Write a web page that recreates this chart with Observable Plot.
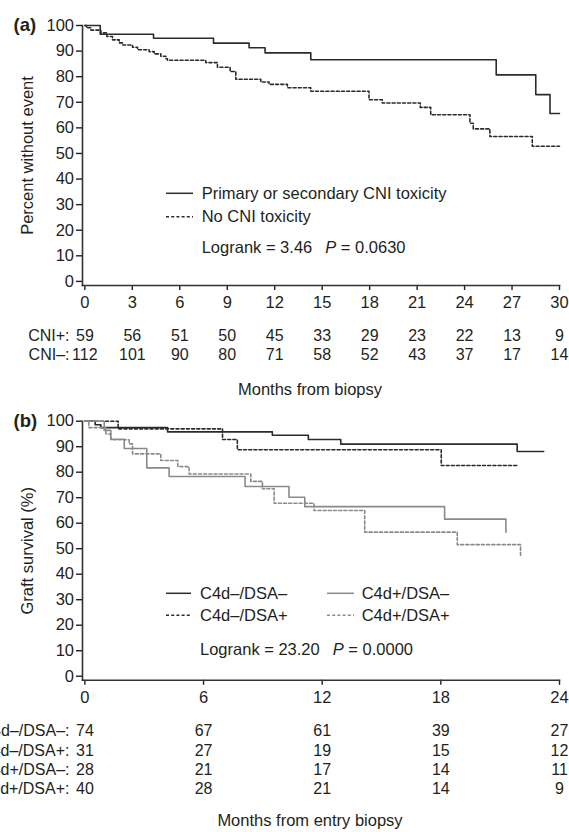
<!DOCTYPE html>
<html><head><meta charset="utf-8">
<script src="https://cdn.jsdelivr.net/npm/d3@7"></script>
<script src="https://cdn.jsdelivr.net/npm/@observablehq/plot@0.6"></script>
<style>body{margin:0;background:#fff} svg{display:block}</style>
</head><body><div id="chart"></div>
<script>
const FONT = "'Liberation Sans', Arial, Helvetica, sans-serif";
const INK = "#231f20";
const DARK = "#2b2b2b";
const GRAY = "#8a8a8a";

// ---------- Panel (a) data ----------
const aTicks = [0, 3, 6, 9, 12, 15, 18, 21, 24, 27, 30];
const aPosLabel = "Primary or secondary CNI toxicity";
const aNegLabel = "No CNI toxicity";
const aPosT = [0, 0.97, 4.34, 8.13, 10.38, 11.39, 14.28, 26.0, 28.5, 29.4, 30];
const aPosS = [100, 96.6, 95.0, 93.1, 91.3, 89.3, 86.6, 80.7, 73.0, 65.6, 65.6];
const aNegT = [0, 0.1, 0.38, 1.01, 1.39, 1.75, 2.17, 2.38, 3.01, 3.33, 4.06, 4.38, 4.8, 5.12, 5.22, 7.64, 8.38, 9.18, 9.54, 11.12, 11.64, 12.8, 14.28, 17.96, 18.8, 21.2, 21.86, 24.34, 24.55, 25.6, 28.28, 30];
const aNegS = [100, 99.1, 98.2, 97.1, 95.7, 94.4, 93.2, 92.4, 91.5, 90.5, 89.8, 88.9, 88.0, 87.0, 86.4, 85.5, 83.7, 82.0, 79.0, 77.9, 77.0, 75.7, 74.3, 71.0, 69.7, 68.0, 65.1, 61.8, 59.6, 56.6, 52.8, 52.8];
const aRiskPos = [59, 56, 51, 50, 45, 33, 29, 23, 22, 13, 9];
const aRiskNeg = [112, 101, 90, 80, 71, 58, 52, 43, 37, 17, 14];
const aRowLabels = ["CNI+:", "CNI\u2013:"];
const aLogrank = ["Logrank = 3.46", "P", " = 0.0630"];

// ---------- Panel (b) data ----------
const bTicks = [0, 6, 12, 18, 24];
const bNames = ["C4d\u2013/DSA\u2013", "C4d\u2013/DSA+", "C4d+/DSA\u2013", "C4d+/DSA+"];
const b1T = [0, 0.52, 0.81, 4.18, 9.48, 11.3, 12.94, 21.86, 23.2];
const b1S = [100, 98.6, 97.5, 95.8, 94.5, 92.8, 91.0, 88.1, 88.1];
const b2T = [0, 1.68, 6.96, 7.71, 18.02, 21.9];
const b2S = [100, 97.0, 92.8, 88.8, 82.6, 82.6];
const b3T = [0, 0.98, 1.31, 1.99, 3.13, 4.26, 8.1, 10.32, 11.12, 18.19, 21.29];
const b3S = [100, 96.4, 92.9, 89.3, 81.7, 78.3, 74.4, 70.2, 66.5, 61.6, 56.5];
const b4T = [0, 0.2, 1.06, 1.31, 2.24, 2.41, 3.84, 4.7, 5.27, 8.39, 8.98, 9.57, 11.59, 14.15, 18.83, 22.03];
const b4S = [100, 97.5, 95.0, 92.7, 91.1, 87.2, 84.6, 82.2, 79.3, 76.4, 73.5, 67.8, 65.0, 56.5, 51.6, 46.9];
const bRisk1 = [74, 67, 61, 39, 27];
const bRisk2 = [31, 27, 19, 15, 12];
const bRisk3 = [28, 21, 17, 14, 11];
const bRisk4 = [40, 28, 21, 14, 9];
const bLogrank = ["Logrank = 23.20", "P", " = 0.0000"];

const yTicks = [0, 10, 20, 30, 40, 50, 60, 70, 80, 90, 100];

function toRows(ts, ss, name) { return ts.map((t, i) => ({t, s: ss[i], name})); }

function legendMark(items, logrank, layout) {
  return (index, scales, values, dims) => {
    const g = d3.create("svg:g").attr("font-family", FONT).attr("font-size", 16.5).attr("fill", INK).attr("text-anchor", "start");
    items.forEach(it => {
      g.append("line").attr("x1", it.x1).attr("x2", it.x2).attr("y1", it.y).attr("y2", it.y)
        .attr("stroke", it.color).attr("stroke-width", 1.5)
        .attr("stroke-dasharray", it.dash ? "3,2.2" : null);
      g.append("text").attr("x", it.tx).attr("y", it.y).attr("dy", "0.35em").attr("text-anchor", "start").text(it.label);
    });
    const t = g.append("text").attr("x", layout.lx).attr("y", layout.ly).attr("dy", "0.35em").attr("text-anchor", "start");
    t.append("tspan").text(logrank[0]);
    t.append("tspan").attr("dx", 13).attr("font-style", "italic").text(logrank[1]);
    t.append("tspan").text(logrank[2]);
    return g.node();
  };
}

function panel(cfg) {
  const riskMarks = cfg.risk.map((vals, r) => [
    Plot.text(vals, {x: (d, i) => cfg.ticks[i], text: d => String(d), frameAnchor: "bottom", dy: cfg.rowDy[r], lineAnchor: "middle", fontSize: 16, fill: INK}),
    Plot.text([cfg.rowLabels[r]], {text: d => d, frameAnchor: "bottom-left", dx: cfg.rowLabelX - cfg.marginLeft, dy: cfg.rowDy[r], textAnchor: "end", lineAnchor: "middle", fontSize: 16, fill: INK})
  ]).flat();
  return Plot.plot({
    width: 569,
    height: cfg.height,
    marginLeft: cfg.marginLeft,
    marginRight: 10,
    marginTop: cfg.marginTop,
    marginBottom: cfg.marginBottom,
    style: {fontFamily: FONT, fontSize: "16px", color: INK, background: "#fff"},
    x: {domain: cfg.xDomain},
    y: {domain: [-1.6, 100]},
    marks: [
      Plot.axisY({ticks: yTicks, tickSize: 6, tickPadding: 2.5, label: null, fontSize: 16.5, strokeWidth: 1.4}),
      Plot.axisX({ticks: cfg.ticks, tickSize: 5, tickPadding: 6, label: null, fontSize: 16.5, strokeWidth: 1.4}),
      Plot.frame({anchor: "left", stroke: "#333", strokeWidth: 1.6}),
      Plot.frame({anchor: "bottom", stroke: "#333", strokeWidth: 1.6}),
      ...cfg.series.map(s => Plot.line(s.rows, {x: "t", y: "s", curve: "step-after", stroke: s.color, strokeWidth: 1.6, strokeDasharray: s.dash ? "3,2.2" : null})),
      ...riskMarks,
      Plot.text([cfg.xTitle], {text: d => d, frameAnchor: "bottom", dx: -11, dy: cfg.titleDy, lineAnchor: "middle", fontSize: 16.5, fill: INK}),
      Plot.text([cfg.yTitle], {text: d => d, frameAnchor: "left", dx: 27 - cfg.marginLeft, rotate: -90, lineAnchor: "middle", textAnchor: "middle", fontSize: 16.5, fill: INK}),
      Plot.text([cfg.label], {text: d => d, frameAnchor: "top-left", dx: 13 - cfg.marginLeft, textAnchor: "start", lineAnchor: "middle", fontSize: 18.5, fontWeight: "bold", fill: INK}),
      legendMark(cfg.legendItems, cfg.logrank, cfg.logrankPos)
    ]
  });
}

const chartA = panel({
  height: 400, marginLeft: 82, marginTop: 25, marginBottom: 115,
  xDomain: [-0.15, 30], ticks: aTicks,
  series: [
    {rows: toRows(aPosT, aPosS, aPosLabel), color: DARK, dash: false},
    {rows: toRows(aNegT, aNegS, aNegLabel), color: DARK, dash: true}
  ],
  risk: [aRiskPos, aRiskNeg], rowLabels: aRowLabels, rowLabelX: 69, rowDy: [50, 69],
  xTitle: "Months from biopsy", titleDy: 104,
  yTitle: "Percent without event", label: "(a)",
  legendItems: [
    {x1: 166, x2: 193, y: 193.3, tx: 201.7, label: aPosLabel, color: DARK, dash: false},
    {x1: 166, x2: 193, y: 216.7, tx: 201.7, label: aNegLabel, color: DARK, dash: true}
  ],
  logrank: aLogrank, logrankPos: {lx: 201.7, ly: 247.7}
});

const chartB = panel({
  height: 432, marginLeft: 82, marginTop: 20.7, marginBottom: 432 - 279.8,
  xDomain: [-0.12, 24], ticks: bTicks,
  series: [
    {rows: toRows(b1T, b1S, bNames[0]), color: DARK, dash: false},
    {rows: toRows(b2T, b2S, bNames[1]), color: DARK, dash: true},
    {rows: toRows(b3T, b3S, bNames[2]), color: GRAY, dash: false},
    {rows: toRows(b4T, b4S, bNames[3]), color: GRAY, dash: true}
  ],
  risk: [bRisk1, bRisk2, bRisk3, bRisk4], rowLabels: bNames.map(n => n + ":"), rowLabelX: 69, rowDy: [51, 70.5, 90, 109],
  xTitle: "Months from entry biopsy", titleDy: 140,
  yTitle: "Graft survival (%)", label: "(b)",
  legendItems: [
    {x1: 166, x2: 191, y: 193.3, tx: 200, label: bNames[0], color: DARK, dash: false},
    {x1: 166, x2: 191, y: 215.2, tx: 200, label: bNames[1], color: DARK, dash: true},
    {x1: 327, x2: 354, y: 193.3, tx: 361.7, label: bNames[2], color: GRAY, dash: false},
    {x1: 327, x2: 354, y: 215.2, tx: 361.7, label: bNames[3], color: GRAY, dash: true}
  ],
  logrank: bLogrank, logrankPos: {lx: 200, ly: 249.6}
});

const root = document.getElementById("chart");
root.append(chartA, chartB);
</script>
</body></html>
